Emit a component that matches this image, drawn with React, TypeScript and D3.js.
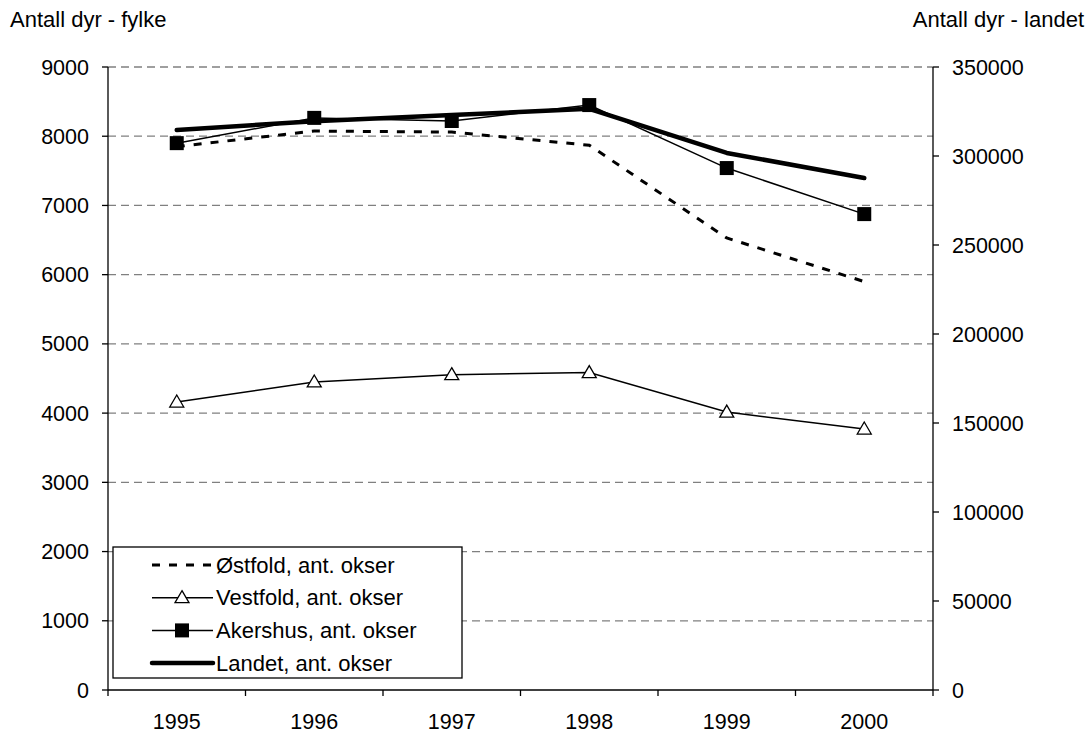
import React from 'react';
import * as d3 from 'd3';

const years = ['1995', '1996', '1997', '1998', '1999', '2000'];
const ostfold = [7850, 8075, 8060, 7870, 6530, 5900];
const vestfold = [4160, 4450, 4555, 4585, 4015, 3770];
const akershus = [7900, 8265, 8220, 8450, 7540, 6875];
const landet = [314600, 319500, 323000, 326500, 301700, 287600];
const leftTicks = [0, 1000, 2000, 3000, 4000, 5000, 6000, 7000, 8000, 9000];
const rightTicks = [0, 50000, 100000, 150000, 200000, 250000, 300000, 350000];
const legendLabels = ['Østfold, ant. okser', 'Vestfold, ant. okser', 'Akershus, ant. okser', 'Landet, ant. okser'];

const W = 1088;
const H = 733;
const margin = { top: 67, right: 155, bottom: 43, left: 108 };
const font = '"Liberation Sans", Arial, sans-serif';
const fs = 21.5;

export default function App() {
  const x = d3.scaleBand<string>().domain(years).range([margin.left, W - margin.right]);
  const yL = d3.scaleLinear().domain([0, 9000]).range([H - margin.bottom, margin.top]);
  const yR = d3.scaleLinear().domain([0, 350000]).range([H - margin.bottom, margin.top]);
  const cx = (i: number) => x(years[i])! + x.bandwidth() / 2;

  const lineL = d3.line<number>().x((_, i) => cx(i)).y(d => yL(d));
  const lineR = d3.line<number>().x((_, i) => cx(i)).y(d => yR(d));

  const x0 = margin.left;
  const x1 = W - margin.right;
  const yb = H - margin.bottom;

  const tri = (px: number, py: number, k: string) => (
    <path key={k} d={`M${px},${py - 7}L${px + 7},${py + 5}L${px - 7},${py + 5}Z`} fill="white" stroke="black" strokeWidth={1.3} />
  );

  // legend
  const lg = { x: 113, y: 547, w: 349, h: 131 };
  const rowY = (i: number) => 565 + i * 32.7;

  return (
    <svg width={W} height={H} style={{ position: 'absolute', left: 0, top: 0 }} fontFamily={font}>
      <rect width={W} height={H} fill="white" />
      {/* grid */}
      {leftTicks.filter(t => t > 0).map(t => (
        <line key={t} x1={x0} x2={x1} y1={yL(t)} y2={yL(t)} stroke="#808080" strokeWidth={1.3} strokeDasharray="8,5" />
      ))}
      {/* axes */}
      <line x1={x0} x2={x0} y1={margin.top} y2={yb} stroke="black" strokeWidth={1.3} />
      <line x1={x1} x2={x1} y1={margin.top} y2={yb} stroke="black" strokeWidth={1.3} />
      <line x1={x0} x2={x1} y1={yb} y2={yb} stroke="black" strokeWidth={1.3} />
      {leftTicks.map(t => (
        <g key={t}>
          <line x1={x0 - 6} x2={x0} y1={yL(t)} y2={yL(t)} stroke="black" strokeWidth={1.3} />
          <text x={x0 - 19} y={yL(t)} dy="0.35em" textAnchor="end" fontSize={fs}>{t}</text>
        </g>
      ))}
      {rightTicks.map(t => (
        <g key={t}>
          <line x1={x1} x2={x1 + 6} y1={yR(t)} y2={yR(t)} stroke="black" strokeWidth={1.3} />
          <text x={x1 + 19} y={yR(t)} dy="0.35em" textAnchor="start" fontSize={fs}>{t}</text>
        </g>
      ))}
      {years.map((yr, i) => (
        <g key={yr}>
          <line x1={x(yr)!} x2={x(yr)!} y1={yb} y2={yb + 6} stroke="black" strokeWidth={1.3} />
          <text x={cx(i)} y={yb + 39} textAnchor="middle" fontSize={fs}>{yr}</text>
        </g>
      ))}
      <line x1={x1} x2={x1} y1={yb} y2={yb + 6} stroke="black" strokeWidth={1.3} />
      <text x={10} y={27} fontSize={22}>Antall dyr - fylke</text>
      <text x={1084} y={27} fontSize={22} textAnchor="end">Antall dyr - landet</text>

      {/* series */}
      <path d={lineL(ostfold)!} fill="none" stroke="black" strokeWidth={3} strokeDasharray="8,9" />
      <path d={lineL(vestfold)!} fill="none" stroke="black" strokeWidth={1.5} />
      {vestfold.map((v, i) => tri(cx(i), yL(v), 'v' + i))}
      <path d={lineL(akershus)!} fill="none" stroke="black" strokeWidth={1.5} />
      {akershus.map((v, i) => (
        <rect key={'a' + i} x={cx(i) - 7} y={yL(v) - 7} width={14} height={14} fill="black" />
      ))}
      <path d={lineR(landet)!} fill="none" stroke="black" strokeWidth={4.5} strokeLinecap="round" strokeLinejoin="round" />

      {/* legend */}
      <rect x={lg.x} y={lg.y} width={lg.w} height={lg.h} fill="white" stroke="black" strokeWidth={1.3} />
      <line x1={152} x2={213} y1={rowY(0)} y2={rowY(0)} stroke="black" strokeWidth={3} strokeDasharray="8,9" />
      <line x1={152} x2={213} y1={rowY(1)} y2={rowY(1)} stroke="black" strokeWidth={1.5} />
      {tri(182, rowY(1), 'lt')}
      <line x1={152} x2={213} y1={rowY(2)} y2={rowY(2)} stroke="black" strokeWidth={1.5} />
      <rect x={175} y={rowY(2) - 7} width={14} height={14} fill="black" />
      <line x1={152} x2={213} y1={rowY(3)} y2={rowY(3)} stroke="black" strokeWidth={4.5} strokeLinecap="round" />
      {legendLabels.map((l, i) => (
        <text key={l} x={216} y={rowY(i)} dy="0.35em" fontSize={22}>{l}</text>
      ))}
    </svg>
  );
}
